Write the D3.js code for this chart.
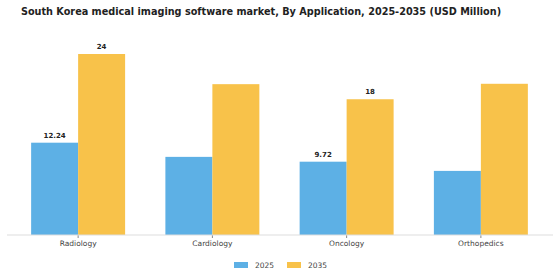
<!DOCTYPE html>
<html>
<head>
<meta charset="utf-8">
<script src="https://cdn.jsdelivr.net/npm/d3@7"></script>
<style>
  body { margin: 0; background: #fff; }
  text { font-family: "DejaVu Sans", sans-serif; }
</style>
</head>
<body>
<div id="chart"></div>
<script>
// chart data
const categories = ['Radiology', 'Cardiology', 'Oncology', 'Orthopedics'];
const seriesNames = ['2025', '2035'];
const values2025 = [12.24, 10.36, 9.72, 8.5];
const values2035 = [24, 20, 18, 20.05];
// only some bars carry a value label
const labels2025 = ['12.24', null, '9.72', null];
const labels2035 = ['24', null, '18', null];
const colors = ['#5DB0E5', '#F8C24A'];

const width = 560, height = 280;

const svg = d3.select('#chart').append('svg')
    .attr('width', width)
    .attr('height', height);

svg.append('text')
    .attr('x', 261)
    .attr('y', 15)
    .attr('text-anchor', 'middle')
    .attr('font-weight', 'bold')
    .attr('font-size', 9.7)
    .attr('fill', '#222')
    .text('South Korea medical imaging software market, By Application, 2025-2035 (USD Million)');

const x0 = d3.scaleBand()
    .domain(categories)
    .range([11, 548])
    .paddingInner(0.3)
    .paddingOuter(0.15);

const x1 = d3.scaleBand()
    .domain(seriesNames)
    .range([0, x0.bandwidth()]);

const y = d3.scaleLinear()
    .domain([0, 24])
    .range([235, 54]);

const rows = categories.map((c, i) => ({
  category: c,
  bars: [
    {key: '2025', value: values2025[i], label: labels2025[i]},
    {key: '2035', value: values2035[i], label: labels2035[i]}
  ]
}));

const groups = svg.selectAll('.group')
    .data(rows)
  .join('g')
    .attr('class', 'group')
    .attr('transform', d => `translate(${x0(d.category)},0)`);

groups.selectAll('rect')
    .data(d => d.bars)
  .join('rect')
    .attr('x', d => x1(d.key))
    .attr('y', d => y(d.value))
    .attr('width', x1.bandwidth())
    .attr('height', d => y(0) - y(d.value))
    .attr('fill', (d, i) => colors[i]);

groups.selectAll('.value-label')
    .data(d => d.bars.filter(b => b.label))
  .join('text')
    .attr('class', 'value-label')
    .attr('x', d => x1(d.key) + x1.bandwidth() / 2)
    .attr('y', d => y(d.value) - 5)
    .attr('text-anchor', 'middle')
    .attr('font-size', 7)
    .attr('font-weight', 'bold')
    .attr('fill', '#222')
    .text(d => d.label);

// baseline axis
const xAxis = svg.append('g')
    .attr('transform', `translate(0,${y(0)})`)
    .call(d3.axisBottom(x0).tickSize(3).tickSizeOuter(0));
xAxis.select('.domain').remove();
xAxis.selectAll('.tick line').attr('stroke', '#888');
xAxis.selectAll('.tick text')
    .attr('font-family', '"DejaVu Sans", sans-serif')
    .attr('font-size', 7.5)
    .attr('fill', '#444')
    .attr('dy', '0.6em');
svg.append('line')
    .attr('x1', 7).attr('x2', 553)
    .attr('y1', y(0)).attr('y2', y(0))
    .attr('stroke', '#ddd');

// legend
const legendX = [234, 287];
const legend = svg.selectAll('.legend')
    .data(seriesNames)
  .join('g')
    .attr('class', 'legend')
    .attr('transform', (d, i) => `translate(${legendX[i]},265)`);
legend.append('rect')
    .attr('x', 0).attr('y', -3)
    .attr('width', 14).attr('height', 6)
    .attr('fill', (d, i) => colors[i]);
legend.append('text')
    .attr('x', 21)
    .attr('dy', '0.35em')
    .attr('font-size', 7.5)
    .attr('fill', '#444')
    .text(d => d);
</script>
</body>
</html>
